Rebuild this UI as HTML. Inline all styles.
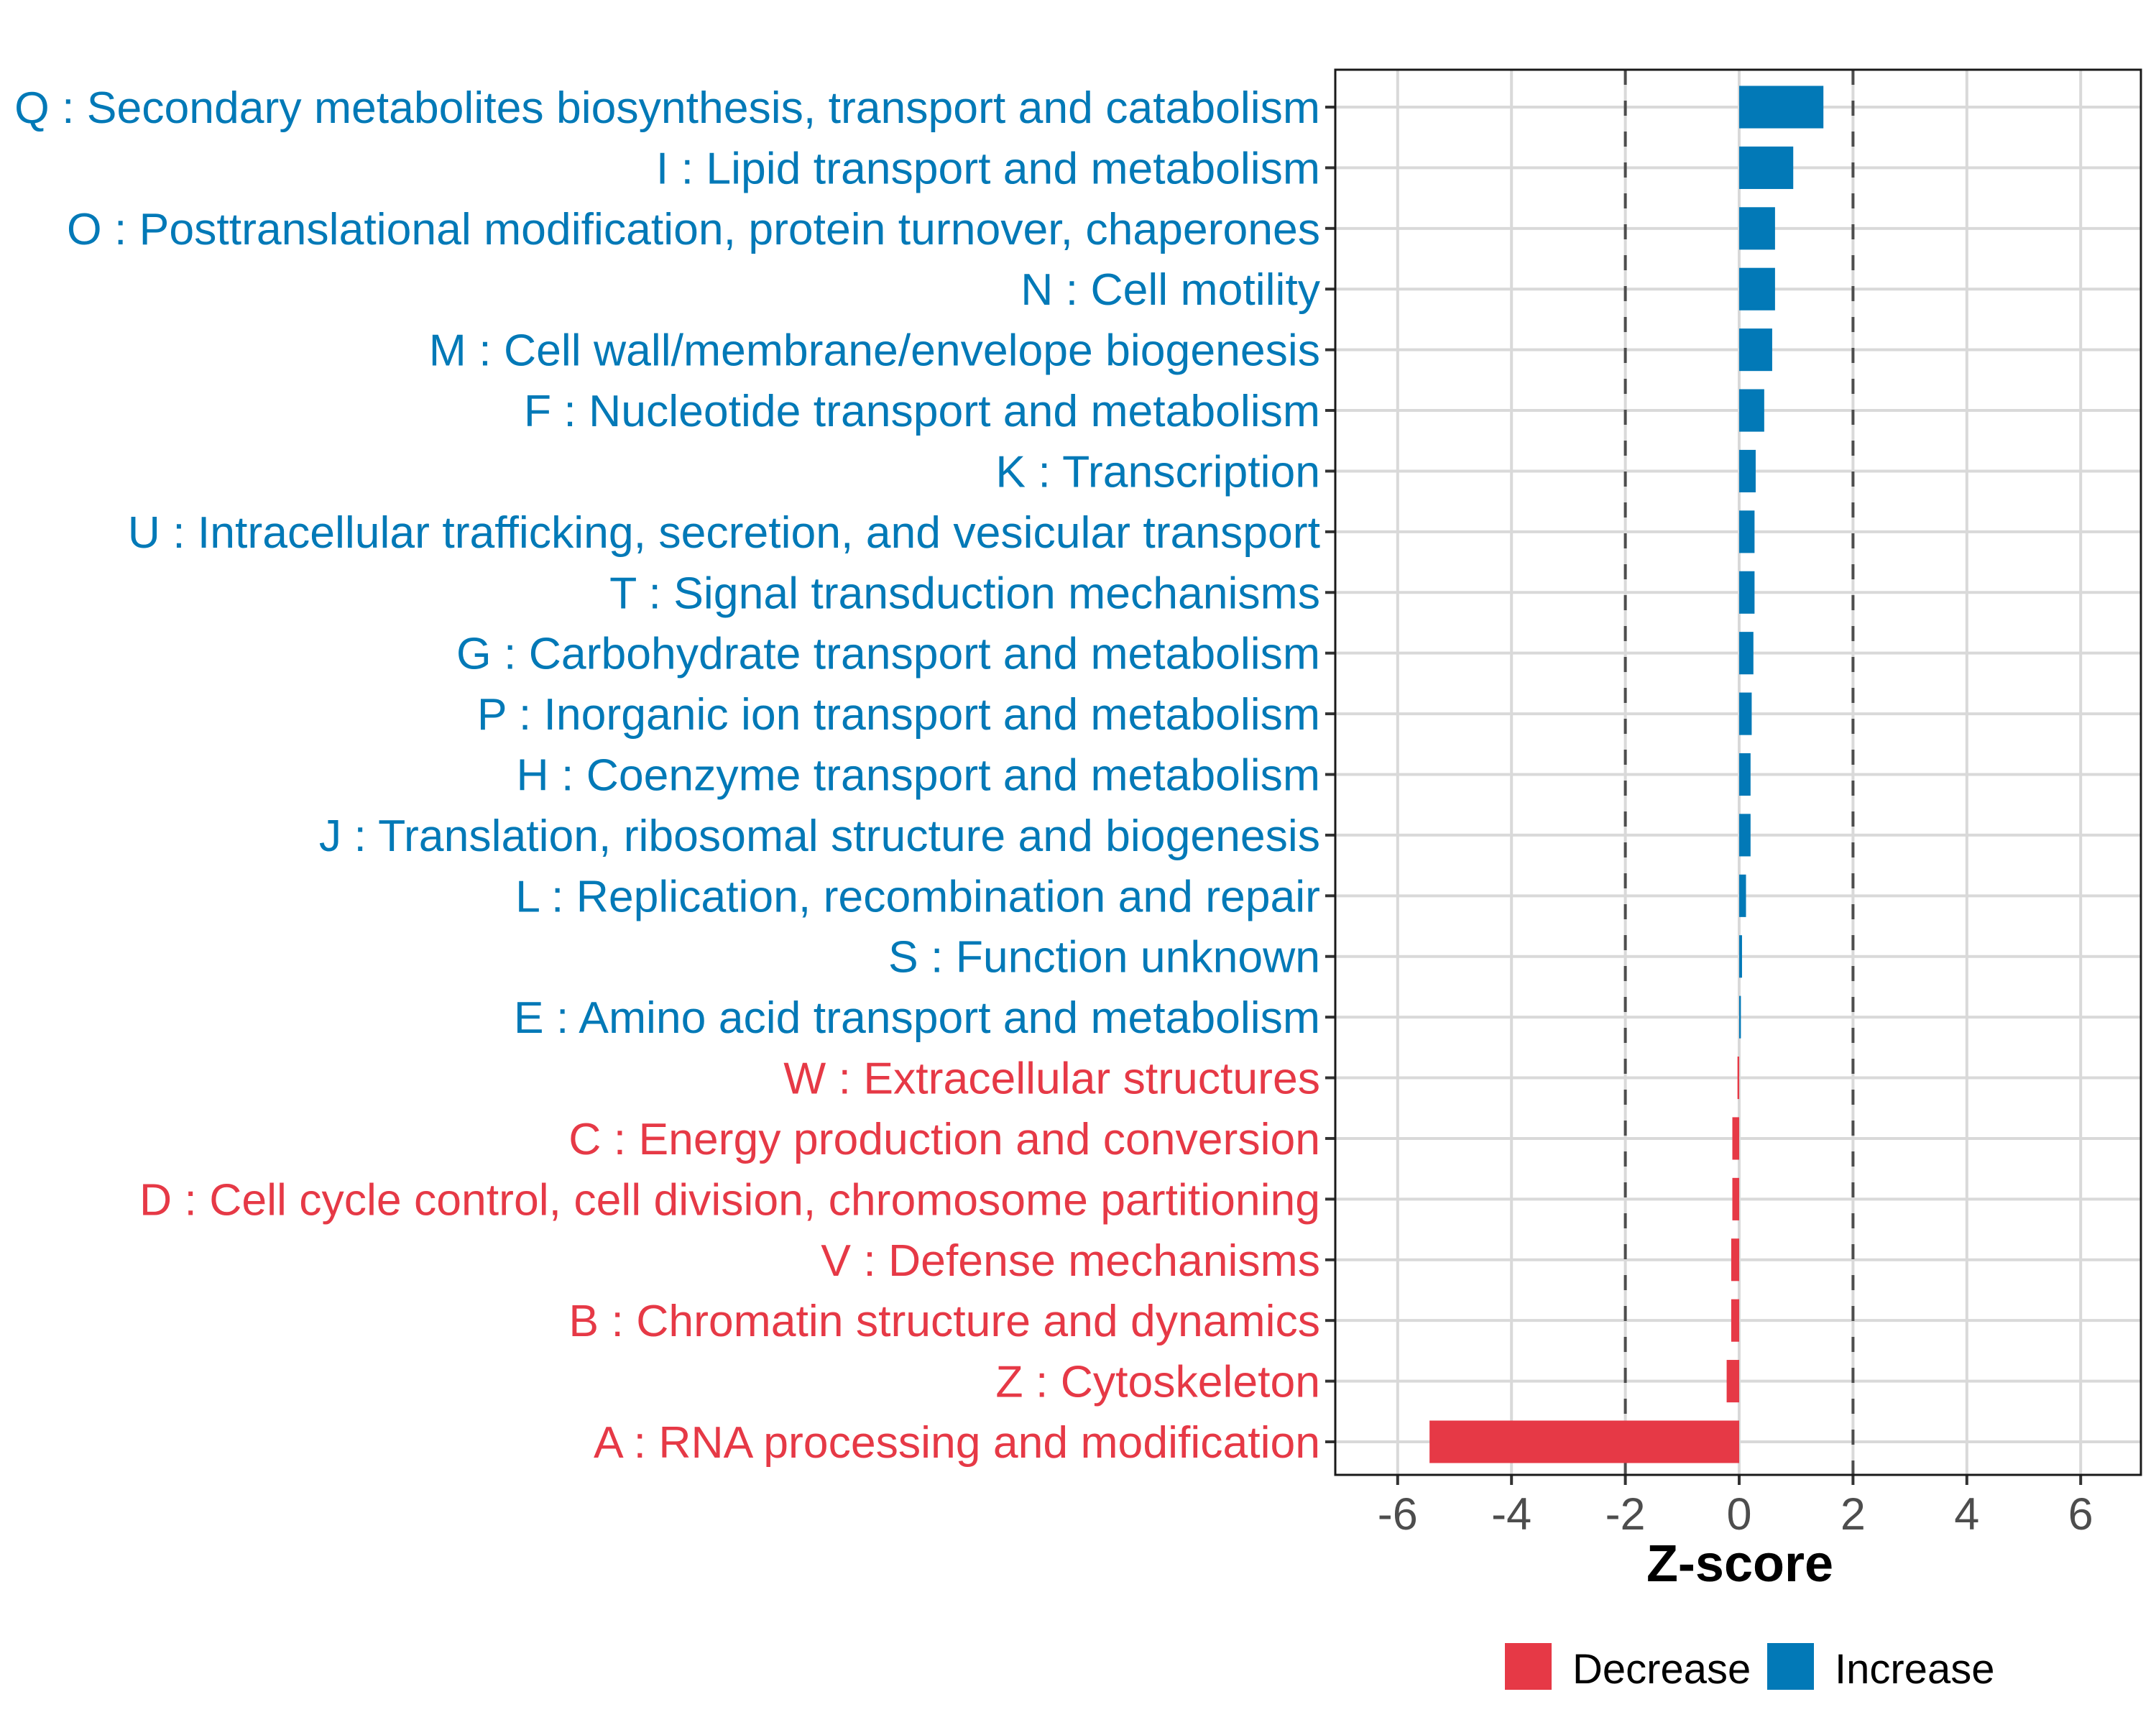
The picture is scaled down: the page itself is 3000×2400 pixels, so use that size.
<!DOCTYPE html>
<html><head><meta charset="utf-8">
<style>
html,body{margin:0;padding:0;background:#fff;}
svg{display:block;font-family:"Liberation Sans",Arial,sans-serif;}
</style></head>
<body>
<svg id="chart" width="3000" height="2400" viewBox="0 0 3000 2400" xmlns="http://www.w3.org/2000/svg">
<rect x="0" y="0" width="3000" height="2400" fill="#fff"/>
<g id="grid"></g>
<g id="refs"></g>
<g id="bars"></g>
<g id="ylabels"></g>
<g id="xaxis"></g>
<rect x="1858" y="97" width="1121" height="1955" fill="none" stroke="#1a1a1a" stroke-width="3"/>
<text x="2421" y="2200" text-anchor="middle" font-size="72" font-weight="bold" fill="#000">Z-score</text>
<g>
  <rect x="2094" y="2286" width="65" height="65" fill="#e63946"/>
  <text x="2188" y="2342" font-size="58" fill="#000">Decrease</text>
  <rect x="2459" y="2286" width="65" height="65" fill="#0279b7"/>
  <text x="2553" y="2342" font-size="58" fill="#000">Increase</text>
</g>
</svg>
<script>
const categories = [
"Q : Secondary metabolites biosynthesis, transport and catabolism",
"I : Lipid transport and metabolism",
"O : Posttranslational modification, protein turnover, chaperones",
"N : Cell motility",
"M : Cell wall/membrane/envelope biogenesis",
"F : Nucleotide transport and metabolism",
"K : Transcription",
"U : Intracellular trafficking, secretion, and vesicular transport",
"T : Signal transduction mechanisms",
"G : Carbohydrate transport and metabolism",
"P : Inorganic ion transport and metabolism",
"H : Coenzyme transport and metabolism",
"J : Translation, ribosomal structure and biogenesis",
"L : Replication, recombination and repair",
"S : Function unknown",
"E : Amino acid transport and metabolism",
"W : Extracellular structures",
"C : Energy production and conversion",
"D : Cell cycle control, cell division, chromosome partitioning",
"V : Defense mechanisms",
"B : Chromatin structure and dynamics",
"Z : Cytoskeleton",
"A : RNA processing and modification"];
const zscores = [1.48,0.95,0.63,0.63,0.58,0.44,0.29,0.27,0.27,0.25,0.22,0.2,0.2,0.12,0.05,0.03,-0.03,-0.12,-0.12,-0.14,-0.14,-0.22,-5.44];
const xTicks = [-6,-4,-2,0,2,4,6];
const refLines = [-2,2];

const NS="http://www.w3.org/2000/svg";
const PL=1858, PR=2979, PT=97, PB=2052;
const X0=2420, UNIT=79.2;
const xs = v => X0 + v*UNIT;
const Y0=149, STEP=(2006-149)/(categories.length-1);
const ys = i => Y0 + i*STEP;
const BAR_H = STEP*0.7;
function mk(tag, attrs, parent){const e=document.createElementNS(NS,tag);for(const k in attrs)e.setAttribute(k,attrs[k]);parent.appendChild(e);return e;}
const grid=document.getElementById('grid'), bars=document.getElementById('bars'), yl=document.getElementById('ylabels'), xa=document.getElementById('xaxis'), refs=document.getElementById('refs');
xTicks.forEach(v=>{
  const l=mk('line',{x1:xs(v),x2:xs(v),y1:PT,y2:PB,stroke:'#d9d9d9','stroke-width':4},grid);
  
  
  const t=mk('line',{x1:xs(v),x2:xs(v),y1:PB,y2:PB+14,stroke:'#333','stroke-width':4},xa);
  
  
  const tx=mk('text',{x:xs(v),y:PB+76,'text-anchor':'middle','font-size':63,fill:'#4d4d4d'},xa);
  tx.textContent=String(v);
  
  
});
categories.forEach((c,i)=>{
  const y=ys(i);
  const g=mk('line',{x1:PL,x2:PR,y1:y,y2:y,stroke:'#d9d9d9','stroke-width':4},grid);
  
  
});
refLines.forEach(v=>{
  const l=mk('line',{x1:xs(v),x2:xs(v),y1:PT,y2:PB,stroke:'#4d4d4d','stroke-width':4,'stroke-dasharray':'21,22'},refs);
  
  
});
categories.forEach((c,i)=>{
  const v=zscores[i], y=ys(i);
  const col = v>=0 ? '#0279b7' : '#e63946';
  const r=mk('rect',{x:Math.min(xs(0),xs(v)),y:y-BAR_H/2,width:Math.abs(xs(v)-xs(0)),height:BAR_H,fill:col},bars);
  
  
  const tk=mk('line',{x1:PL-14,x2:PL,y1:y,y2:y,stroke:'#333','stroke-width':4},yl);
  
  
  const t=mk('text',{x:1837,y:y+22,'text-anchor':'end','font-size':62.5,fill:col},yl);
  t.textContent=c;
  
  
});
</script>
</body></html>
